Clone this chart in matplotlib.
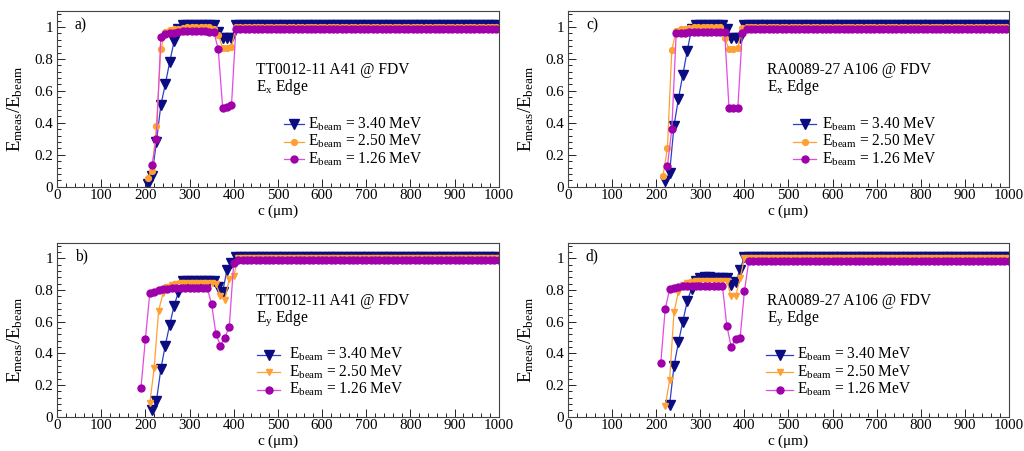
import numpy as np
import matplotlib
matplotlib.use('Agg')
import matplotlib.pyplot as plt
from matplotlib.ticker import MultipleLocator, AutoMinorLocator

plt.rcParams['font.family'] = ['Liberation Serif', 'DejaVu Serif']
plt.rcParams['mathtext.default'] = 'regular'

STEP = 10      # scan step in um
C_END = 1000

# --- a) TT0012-11 A41, Ex edge ---
a_blue_start = 205
a_blue = [0.02, 0.07, 0.28, 0.51, 0.64, 0.78, 0.91, 0.99, 1.01, 1.01,
          1.01, 1.01, 1.01, 1.01, 1.01, 1.01, 0.97, 0.93, 0.93, 0.93]
a_blue_level = 1.01
a_orange_start = 205
a_orange = [0.055, 0.10, 0.38, 0.86, 0.97, 0.98, 0.985, 0.99, 0.995, 1.0,
            1.0, 1.0, 1.0, 1.0, 1.0, 0.99, 0.95, 0.87, 0.87, 0.875]
a_orange_level = 1.0
a_mag_start = 215
a_mag = [0.135, 0.30, 0.94, 0.955, 0.96, 0.965, 0.97, 0.975, 0.975, 0.975,
         0.975, 0.975, 0.975, 0.97, 0.97, 0.86, 0.495, 0.50, 0.51]
a_mag_level = 0.99

# --- b) TT0012-11 A41, Ey edge ---
b_blue_start = 215
b_blue = [0.04, 0.10, 0.30, 0.45, 0.58, 0.70, 0.79, 0.855, 0.86, 0.86,
          0.86, 0.86, 0.86, 0.86, 0.86, 0.82, 0.79, 0.93, 0.97]
b_blue_level = 1.01
b_orange_start = 210
b_orange = [0.085, 0.31, 0.67, 0.78, 0.82, 0.83, 0.84, 0.845, 0.845, 0.845,
            0.845, 0.845, 0.845, 0.845, 0.845, 0.84, 0.76, 0.74, 0.87, 0.89]
b_orange_level = 1.0
b_mag_start = 190
b_mag = [0.18, 0.49, 0.78, 0.79, 0.80, 0.805, 0.81, 0.815, 0.815, 0.815,
         0.815, 0.815, 0.815, 0.815, 0.815, 0.815, 0.71, 0.52, 0.45, 0.50,
         0.57, 0.97]
b_mag_level = 0.99

# --- c) RA0089-27 A106, Ex edge ---
c_blue_start = 220
c_blue = [0.035, 0.085, 0.38, 0.55, 0.70, 0.85, 0.99, 1.01, 1.01, 1.01,
          1.01, 1.01, 1.01, 1.01, 0.99, 0.93, 0.93, 0.93]
c_blue_level = 1.01
c_orange_start = 215
c_orange = [0.07, 0.24, 0.855, 0.975, 0.985, 0.99, 0.995, 1.0, 1.0, 1.0,
            1.0, 1.0, 1.0, 1.0, 0.93, 0.86, 0.865, 0.87, 0.995]
c_orange_level = 1.0
c_mag_start = 225
c_mag = [0.13, 0.36, 0.96, 0.965, 0.965, 0.97, 0.97, 0.97, 0.97, 0.97,
         0.97, 0.97, 0.97, 0.97, 0.49, 0.49, 0.495, 0.96]
c_mag_level = 0.99

# --- d) RA0089-27 A106, Ey edge ---
d_blue_start = 230
d_blue = [0.075, 0.32, 0.47, 0.60, 0.73, 0.81, 0.86, 0.875, 0.88, 0.88,
          0.875, 0.875, 0.875, 0.875, 0.83, 0.85, 0.93]
d_blue_level = 1.01
d_orange_start = 220
d_orange = [0.065, 0.23, 0.66, 0.79, 0.83, 0.845, 0.85, 0.855, 0.855, 0.855,
            0.855, 0.855, 0.855, 0.855, 0.855, 0.76, 0.76, 0.875]
d_orange_level = 1.0
d_mag_start = 210
d_mag = [0.34, 0.68, 0.805, 0.815, 0.82, 0.825, 0.825, 0.825, 0.825, 0.825,
         0.825, 0.825, 0.825, 0.825, 0.825, 0.575, 0.44, 0.49, 0.495, 0.795]
d_mag_level = 0.985

beam_labels = ['3.40', '2.50', '1.26']

BLUE_M = '#0c0c82'
BLUE_L = '#2b3fc8'
ORANGE = '#ffa033'
MAG_M = '#a000aa'
MAG_L = '#e34ae3'

FS_TICK = 10.8
FS_TXT = 11.2


def scan(start, vals, level):
    '''scan points up to the last feature, then the flat run out to 1000 um'''
    c = start + STEP * np.arange(len(vals))
    tail = np.arange(c[-1] + STEP, C_END + 1, STEP)
    return np.concatenate([c, tail]), np.concatenate([vals, np.full(len(tail), level)])


def styles(bottom):
    blue = dict(color=BLUE_L, marker='v', ms=6.5, mfc=BLUE_M, mec=BLUE_M, lw=0.9)
    if bottom:
        orange = dict(color=ORANGE, marker='v', ms=3.8, mfc=ORANGE, mec=ORANGE, lw=0.9)
    else:
        orange = dict(color=ORANGE, marker='o', ms=4.2, mfc=ORANGE, mec=ORANGE, lw=0.9)
    mag = dict(color=MAG_L, marker='o', ms=5, mfc=MAG_M, mec=MAG_M, lw=0.9)
    return [blue, orange, mag]


def panel(rect, series, letter, sample, edge, bottom, leg):
    ax = fig.add_axes(rect)
    st = styles(bottom)
    for (start, vals, level), s in zip(series, st):
        c, v = scan(start, vals, level)
        ax.plot(c, v, **s)

    ax.set_xlim(0, 1000)
    ax.set_ylim(0, 1.1)
    ax.xaxis.set_major_locator(MultipleLocator(100))
    ax.xaxis.set_minor_locator(AutoMinorLocator(5))
    ax.set_yticks([0, 0.2, 0.4, 0.6, 0.8, 1.0])
    ax.set_yticklabels(['0', '0.2', '0.4', '0.6', '0.8', '1'])
    ax.yaxis.set_minor_locator(AutoMinorLocator(5))
    ax.tick_params(which='both', direction='in', top=False, right=False,
                   labelsize=FS_TICK, width=0.7, colors='#222222', labelcolor='black')
    ax.tick_params(which='major', length=6)
    ax.tick_params(axis='x', which='major', pad=1.5)
    ax.tick_params(axis='y', which='major', pad=3)
    ax.tick_params(which='minor', length=3)
    for sp in ax.spines.values():
        sp.set_linewidth(0.8)
        sp.set_color('#444444')

    ax.set_xlabel(r'c ($\mu$m)', fontsize=11)
    ax.xaxis.set_label_coords(0.5, -0.092)
    ax.set_ylabel(r'$E_{meas}/E_{beam}$', fontsize=13.5)
    ax.yaxis.set_label_coords(-0.073, 0.44)

    ax.text(0.04, 0.92, letter, transform=ax.transAxes, fontsize=FS_TXT,
            va='center', ha='left')
    ax.text(0.451, 0.612, sample + '\n' + edge, transform=ax.transAxes,
            fontsize=FS_TXT, va='center', ha='left', linespacing=0.95)

    x0, x1, xt = leg
    for y, s, lab in zip([0.357, 0.256, 0.155], st, beam_labels):
        ax.plot([x0, x1], [y, y], transform=ax.transAxes, color=s['color'],
                lw=s['lw'], clip_on=False)
        ax.plot([(x0 + x1) / 2], [y], transform=ax.transAxes, ls='none',
                marker=s['marker'], ms=s['ms'], mfc=s['mfc'], mec=s['mec'],
                clip_on=False)
        ax.text(xt, y, r'$E_{beam}$ = ' + lab + ' MeV', transform=ax.transAxes,
                fontsize=FS_TXT, va='center', ha='left')
    return ax


fig = plt.figure(figsize=(10.24, 4.51), dpi=100)

panel([0.0557, 0.586, 0.4313, 0.3896],
      [(a_blue_start, a_blue, a_blue_level),
       (a_orange_start, a_orange, a_orange_level),
       (a_mag_start, a_mag, a_mag_level)],
      'a)', 'TT0012-11 A41 @ FDV', r'$E_x$ Edge', False, (0.513, 0.56, 0.568))

panel([0.0557, 0.076, 0.4313, 0.386],
      [(b_blue_start, b_blue, b_blue_level),
       (b_orange_start, b_orange, b_orange_level),
       (b_mag_start, b_mag, b_mag_level)],
      'b)', 'TT0012-11 A41 @ FDV', r'$E_y$ Edge', True, (0.453, 0.505, 0.525))

panel([0.5550, 0.586, 0.4300, 0.3896],
      [(c_blue_start, c_blue, c_blue_level),
       (c_orange_start, c_orange, c_orange_level),
       (c_mag_start, c_mag, c_mag_level)],
      'c)', 'RA0089-27 A106 @ FDV', r'$E_x$ Edge', False, (0.511, 0.563, 0.575))

panel([0.5550, 0.076, 0.4300, 0.386],
      [(d_blue_start, d_blue, d_blue_level),
       (d_orange_start, d_orange, d_orange_level),
       (d_mag_start, d_mag, d_mag_level)],
      'd)', 'RA0089-27 A106 @ FDV', r'$E_y$ Edge', True, (0.45, 0.511, 0.52))

fig.savefig('out.png', dpi=100)
